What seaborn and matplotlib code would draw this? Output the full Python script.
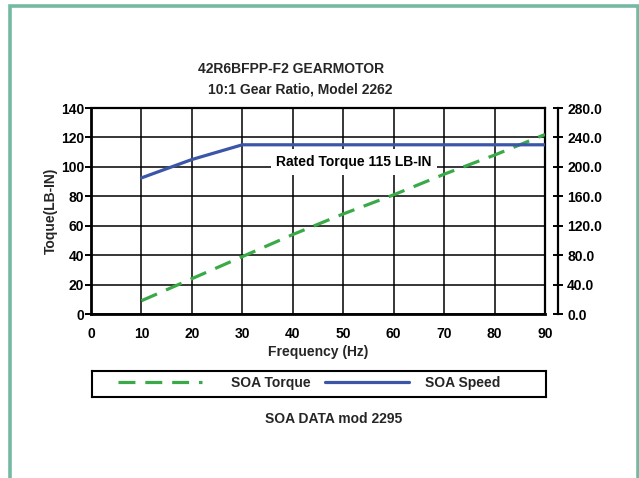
import matplotlib
matplotlib.use("Agg")
import matplotlib.pyplot as plt
from matplotlib.patches import Rectangle
from matplotlib.lines import Line2D
import seaborn as sns
import pandas as pd

# Safe-operating-area data for the gearmotor
freq_hz = [10, 20, 30, 40, 50, 60, 70, 80, 90]
soa_torque = [9, 24, 39, 54, 68, 81, 95, 108, 122]          # LB-IN, left axis
soa_speed = [185, 210, 230, 230, 230, 230, 230, 230, 230]   # right axis
x_ticks = [0, 10, 20, 30, 40, 50, 60, 70, 80, 90]
left_ticks = [0, 20, 40, 60, 80, 100, 120, 140]
right_ticks = [0, 40, 80, 120, 160, 200, 240, 280]
rated_torque = 115

df = pd.DataFrame({"freq": freq_hz, "torque": soa_torque, "speed": soa_speed})

sns.set_theme(style="white")
plt.rcParams["font.family"] = ["Liberation Sans", "DejaVu Sans"]
plt.rcParams["font.weight"] = "bold"

W, H = 639, 478
fig = plt.figure(figsize=(W / 100, H / 100), dpi=100)
fig.patch.set_facecolor("white")

def fx(px):
    return px / W

def fy(py):
    return 1 - py / H

# outer frame
fig.patches.append(Rectangle((fx(10), fy(490)), fx(628), 484 / H,
                             transform=fig.transFigure, fill=False,
                             edgecolor="#74b9a3", linewidth=2.6, zorder=0))

ax = fig.add_axes([fx(91), fy(314), fx(454), 206 / H])
ax2 = ax.twinx()

green = "#3aaa48"
blue = "#3b56a8"
lw = 2.3
dash = [5.3, 3.1]
fs = 10

sns.lineplot(data=df, x="freq", y="torque", ax=ax, color=green, linewidth=lw, zorder=5)
ax.lines[-1].set_dashes(dash)
sns.lineplot(data=df, x="freq", y="speed", ax=ax2, color=blue, linewidth=lw, zorder=5)

ax.set_xlim(0, 90)
ax.set_ylim(0, 140)
ax2.set_ylim(0, 280)
ax.set_xticks(x_ticks)
ax.set_yticks(left_ticks)
ax2.set_yticks(right_ticks)
ax2.set_yticklabels([f"{v:.1f}" for v in right_ticks])
ax.set_xticklabels([str(v) for v in x_ticks])
ax.set_yticklabels([str(v) for v in left_ticks])

ax.grid(True, color="black", linewidth=1.1)
ax.set_axisbelow(True)
for s in ax.spines.values():
    s.set_color("black")
    s.set_linewidth(1.6)
ax.spines["left"].set_linewidth(2.0)
ax.spines["bottom"].set_linewidth(2.0)

for s in ["top", "left", "bottom"]:
    ax2.spines[s].set_visible(False)
ax2.spines["right"].set_position(("outward", 9.4))
ax2.spines["right"].set_color("black")
ax2.spines["right"].set_linewidth(1.6)
ax.tick_params(axis="both", direction="out", length=4, width=1.4, color="black",
               labelsize=fs, pad=1, labelcolor="black")
ax.tick_params(axis="x", pad=5)
ax2.tick_params(axis="y", direction="inout", length=7, width=1.4, color="black",
                labelsize=fs, pad=3, labelcolor="black")
for lbl in ax.get_xticklabels() + ax.get_yticklabels() + ax2.get_yticklabels():
    lbl.set_fontweight("bold")

ax.set_xlabel("Frequency (Hz)", fontsize=fs, fontweight="bold", labelpad=3)
ax.set_ylabel("Toque(LB-IN)", fontsize=fs, fontweight="bold", labelpad=2)
ax2.set_ylabel("")

# rated torque label with white backing
ax.text(36.7, 103.3, f"Rated Torque {rated_torque} LB-IN", fontsize=fs, fontweight="bold",
        ha="left", va="center", color="black", zorder=4,
        bbox=dict(facecolor="white", edgecolor="none", pad=4))

# titles
fig.text(fx(291), fy(69), "42R6BFPP-F2 GEARMOTOR", ha="center", va="center",
         fontsize=fs, fontweight="bold")
fig.text(fx(300), fy(90), "10:1 Gear Ratio, Model 2262", ha="center", va="center",
         fontsize=fs, fontweight="bold")

# legend box
lax = fig.add_axes([fx(92), fy(397), fx(454), 26 / H])
lax.set_xlim(92, 546)
lax.set_ylim(397, 371)
lax.set_xticks([])
lax.set_yticks([])
for s in lax.spines.values():
    s.set_color("black")
    s.set_linewidth(1.5)
    s.set_visible(True)
lax.add_line(Line2D([118, 202], [382, 382], color=green, linewidth=lw, dashes=dash))
lax.add_line(Line2D([325, 409], [382, 382], color=blue, linewidth=lw))
lax.text(231, 383, "SOA Torque", ha="left", va="center", fontsize=fs, fontweight="bold")
lax.text(425, 383, "SOA Speed", ha="left", va="center", fontsize=fs, fontweight="bold")

fig.text(fx(334), fy(419), "SOA DATA mod 2295", ha="center", va="center",
         fontsize=fs, fontweight="bold")

fig.savefig("out.png", dpi=100)
